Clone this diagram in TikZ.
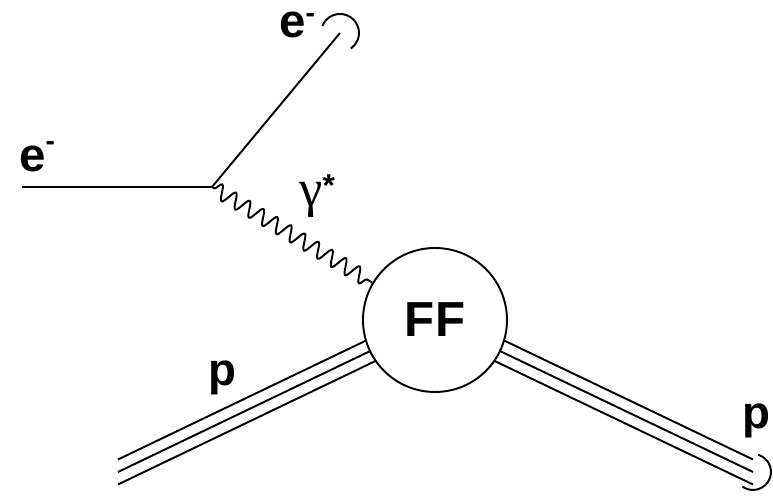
\documentclass[tikz,border=0pt]{standalone}
\usepackage{fontspec}
\setsansfont{Liberation Sans}
\newfontfamily\gamfont{Liberation Serif}
\usetikzlibrary{decorations.pathmorphing, backgrounds}
\newcommand{\elec}[1][12pt]{e\raisebox{#1}{\fontsize{16}{16}\selectfont -}}
\tikzset{
  fermion/.style={line width=1.1pt},
  photon/.style={line width=1.1pt, decorate,
    decoration={snake, amplitude=1.5mm, segment length=3.2mm,
      pre length=0.5mm, post length=0.5mm}},
  hadron/.style={line width=1.1pt},
  hook/.style={line width=1.1pt},
  lbl/.style={font=\sffamily\bfseries\fontsize{27}{32}\selectfont,
    inner sep=0pt, anchor=base west},
  blob/.style={draw, circle, line width=1.1pt, fill=white,
    minimum size=2.88cm, inner sep=0pt,
    font=\sffamily\bfseries\fontsize{28}{32}\selectfont},
}

\begin{document}
\begin{tikzpicture}
  \useasboundingbox (0,0) rectangle (15.46,9.94);

  \coordinate (ein)  at (0.44,6.20);
  \coordinate (vtx)  at (4.24,6.20);
  \coordinate (eout) at (6.80,9.28);
  \coordinate (pin)  at (2.36,0.50);
  \coordinate (pout) at (15.06,0.50);
  \node[blob] (ff) at (8.70,3.54) {FF};

  % electron lines
  \draw[fermion] (ein) -- (vtx);
  \draw[fermion] (vtx) -- (eout);
  \draw[hook] (eout) ++(158:0.38) arc[start angle=158, end angle=-55, radius=0.38];

  % virtual photon
  \draw[photon] (vtx) -- (ff);

  % proton lines
  \begin{scope}[on background layer]
    \foreach \s in {-0.25,0,0.25} {
      \draw[hadron] ([yshift=\s cm]pin) -- ([yshift=\s cm]ff.center);
      \draw[hadron] ([yshift=\s cm]ff.center) -- ([yshift=\s cm]pout);
    }
  \end{scope}
  \draw[hook] (pout) ++(73:0.36) arc[start angle=73, end angle=-126, radius=0.36];

  % labels
  \node[lbl] (lein)  at (0.38,6.50) {\elec};
  \node[lbl] (leout) at (5.58,9.18) {\elec[9pt]};
  \node[lbl, font=\sffamily\bfseries\fontsize{26}{30}\selectfont] (lpin)  at (4.16,2.22) {p};
  \node[lbl, font=\sffamily\bfseries\fontsize{26}{30}\selectfont] (lpout) at (14.84,1.36) {p};
  \node[lbl, font=\gamfont\fontsize{30}{34}\selectfont] (lgam) at (5.98,5.80)
    {γ\raisebox{6pt}{\sffamily\bfseries\fontsize{18}{18}\selectfont *}};
\end{tikzpicture}
\end{document}
